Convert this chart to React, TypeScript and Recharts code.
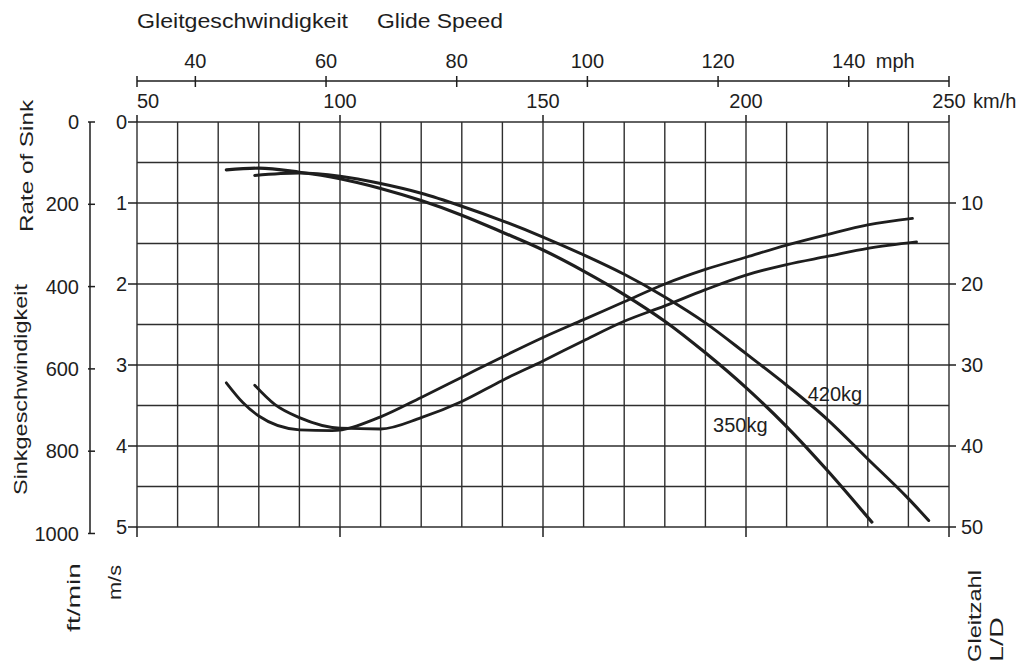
import React from 'react';
import { ComposedChart, Line, XAxis, YAxis, CartesianGrid, ReferenceDot } from 'recharts';

// ---------- data ----------
const sink350Speed = [72, 80, 90, 100, 110, 120, 130, 140, 150, 160, 170, 180, 190, 200, 210, 220, 231];
const sink350 = [0.59, 0.57, 0.62, 0.7, 0.82, 0.97, 1.15, 1.36, 1.58, 1.84, 2.13, 2.46, 2.85, 3.28, 3.76, 4.3, 4.94];

const sink420Speed = [79, 90, 100, 110, 120, 130, 140, 150, 160, 170, 180, 190, 200, 210, 220, 230, 240, 245];
const sink420 = [0.66, 0.63, 0.67, 0.76, 0.88, 1.04, 1.22, 1.42, 1.64, 1.88, 2.16, 2.48, 2.86, 3.25, 3.67, 4.16, 4.65, 4.92];

const ld350Speed = [72, 76, 80, 90, 98, 110, 120, 130, 140, 150, 160, 170, 180, 190, 200, 210, 220, 230, 241];
const ld350 = [32.2, 34.6, 36.3, 38.0, 38.1, 36.4, 34.0, 31.5, 29.0, 26.6, 24.4, 22.2, 20.0, 18.2, 16.7, 15.2, 13.9, 12.7, 11.9];

const ld420Speed = [79, 84, 90, 100, 110, 120, 130, 140, 150, 160, 170, 180, 190, 200, 210, 220, 230, 242];
const ld420 = [32.5, 34.9, 36.5, 37.8, 37.9, 36.5, 34.5, 31.9, 29.5, 27.0, 24.6, 22.7, 20.7, 18.9, 17.6, 16.6, 15.6, 14.8];

const kmhGridTicks = [50, 60, 70, 80, 90, 100, 110, 120, 130, 140, 150, 160, 170, 180, 190, 200, 210, 220, 230, 240, 250];
const kmhLabelTicks = [50, 100, 150, 200, 250];
const mphLabelTicks = [40, 60, 80, 100, 120, 140];
const msTicks = [0, 0.5, 1, 1.5, 2, 2.5, 3, 3.5, 4, 4.5, 5];
const ftminTicks = [0, 200, 400, 600, 800, 1000];
const ldTicks = [10, 20, 30, 40, 50];

const curveLabels = [
  { text: '350kg', speed: 198.6, sink: 3.83 },
  { text: '420kg', speed: 221.9, sink: 3.45 },
];

const KMH_PER_MPH = 1.609344;
const FTMIN_PER_MS = 196.8504;
const mphDomain = [50 / KMH_PER_MPH, 250 / KMH_PER_MPH];
const mphTicks = [mphDomain[0], ...mphLabelTicks, mphDomain[1]];
const ftminDomain = [0, 5 * FTMIN_PER_MS];

const zip = (xs: number[], ys: number[]) => xs.map((x, i) => ({ x, v: ys[i] }));
const sink350Data = zip(sink350Speed, sink350);
const sink420Data = zip(sink420Speed, sink420);
const ld350Data = zip(ld350Speed, ld350);
const ld420Data = zip(ld420Speed, ld420);

// ---------- layout / style ----------
const W = 1024;
const H = 672;
const MARGIN = { top: 41, left: 50, right: 15, bottom: 125 };
const KMH_H = 41;
const MPH_H = 40;
const BOTTOM_H = 20;
const FT_W = 40;
const MS_W = 47;
const LD_W = 60;
const PLOT_TOP = MARGIN.top + KMH_H + MPH_H;
const PLOT_H = H - PLOT_TOP - MARGIN.bottom - BOTTOM_H;
const FT_AXIS_X = MARGIN.left + FT_W;
const FT_AXIS_END = PLOT_TOP + (PLOT_H * ftminTicks[ftminTicks.length - 1]) / ftminDomain[1];

const INK = '#1e1e1e';
const GRID = '#2e2e2e';
const FONT = '"Liberation Sans", Arial, sans-serif';
const NUM = 20;

const txt = { fill: INK, fontFamily: FONT } as const;

const BottomTick = ({ x, y, payload }: any) =>
  payload.value % 50 === 0 ? (
    <line x1={x} x2={x} y1={y} y2={y + 10} stroke={INK} strokeWidth={1.5} />
  ) : (
    <g />
  );

const KmhTick = ({ x, y, payload }: any) => {
  const v = payload.value;
  return (
    <g>
      <line x1={x} x2={x} y1={y - 7} y2={y} stroke={INK} strokeWidth={1.5} />
      <text x={x} y={y - 14} textAnchor={v === 50 ? 'start' : 'middle'} fontSize={NUM} {...txt}>
        {v}
      </text>
      {v === 250 && (
        <text x={x + 24} y={y - 14} textAnchor="start" fontSize={NUM} {...txt}>
          km/h
        </text>
      )}
    </g>
  );
};

const MphTick = ({ x, y, payload }: any) => {
  const v = payload.value;
  const isLabel = mphLabelTicks.includes(v);
  return (
    <g>
      <line x1={x} x2={x} y1={y - 5} y2={y + 6} stroke={INK} strokeWidth={1.5} />
      {isLabel && (
        <text x={x} y={y - 13} textAnchor="middle" fontSize={NUM} {...txt}>
          {v}
        </text>
      )}
      {v === 140 && (
        <text x={x + 27} y={y - 13} textAnchor="start" fontSize={NUM} {...txt}>
          mph
        </text>
      )}
    </g>
  );
};

const MsTick = ({ x, y, payload }: any) => {
  const v = payload.value;
  if (!Number.isInteger(v)) return <g />;
  return (
    <g>
      <line x1={x - 9} x2={x} y1={y} y2={y} stroke={INK} strokeWidth={1.5} />
      <text x={x - 10} y={y} dy="0.36em" textAnchor="end" fontSize={NUM} {...txt}>
        {v}
      </text>
    </g>
  );
};

const FtminTick = ({ x, y, payload }: any) => (
  <g>
    <line x1={x - 2} x2={x + 5} y1={y} y2={y} stroke={INK} strokeWidth={1.5} />
    <text x={x - 11} y={y} dy="0.36em" textAnchor="end" fontSize={NUM} {...txt}>
      {payload.value}
    </text>
  </g>
);

const LdTick = ({ x, y, payload }: any) => (
  <g>
    <line x1={x} x2={x + 7} y1={y} y2={y} stroke={INK} strokeWidth={1.5} />
    <text x={x + 12} y={y} dy="0.36em" textAnchor="start" fontSize={NUM} {...txt}>
      {payload.value}
    </text>
  </g>
);

const VText = ({ x, y, len, children, size = 19 }: any) => (
  <text
    x={x}
    y={y}
    transform={`rotate(-90, ${x}, ${y})`}
    textLength={len}
    lengthAdjust="spacingAndGlyphs"
    fontSize={size}
    {...txt}
  >
    {children}
  </text>
);

export default function App() {
  return (
    <div style={{ position: 'absolute', left: 0, top: 0, width: W, height: H, background: '#fff' }}>
      <ComposedChart width={W} height={H} margin={MARGIN}>
        <XAxis
          xAxisId="bottom"
          dataKey="x"
          type="number"
          orientation="bottom"
          domain={[50, 250]}
          allowDataOverflow
          ticks={kmhGridTicks}
          interval={0}
          height={BOTTOM_H}
          tickSize={0}
          tickMargin={0}
          tickLine={false}
          axisLine={false}
          tick={<BottomTick />}
        />
        <XAxis
          xAxisId="a_kmh"
          dataKey="x"
          type="number"
          orientation="top"
          domain={[50, 250]}
          allowDataOverflow
          ticks={kmhLabelTicks}
          interval={0}
          height={KMH_H}
          tickSize={0}
          tickMargin={0}
          tickLine={false}
          axisLine={false}
          tick={<KmhTick />}
        />
        <XAxis
          xAxisId="b_mph"
          dataKey="x"
          type="number"
          orientation="top"
          domain={mphDomain}
          allowDataOverflow
          ticks={mphTicks}
          interval={0}
          height={MPH_H}
          tickSize={0}
          tickMargin={0}
          tickLine={false}
          stroke={INK}
          axisLine={{ stroke: INK, strokeWidth: 1.5 }}
          tick={<MphTick />}
        />
        <YAxis
          yAxisId="b_ftmin"
          type="number"
          orientation="left"
          domain={ftminDomain}
          allowDataOverflow
          reversed
          ticks={ftminTicks}
          interval={0}
          width={FT_W}
          tickSize={0}
          tickMargin={0}
          tickLine={false}
          axisLine={false}
          tick={<FtminTick />}
        />
        <YAxis
          yAxisId="a_ms"
          type="number"
          orientation="left"
          domain={[0, 5]}
          allowDataOverflow
          reversed
          ticks={msTicks}
          interval={0}
          width={MS_W}
          tickSize={0}
          tickMargin={0}
          tickLine={false}
          axisLine={false}
          tick={<MsTick />}
        />
        <YAxis
          yAxisId="ld"
          type="number"
          orientation="right"
          domain={[0, 50]}
          allowDataOverflow
          reversed
          ticks={ldTicks}
          interval={0}
          width={LD_W}
          tickSize={0}
          tickMargin={0}
          tickLine={false}
          axisLine={false}
          tick={<LdTick />}
        />
        <CartesianGrid xAxisId="bottom" yAxisId="a_ms" stroke={GRID} strokeWidth={1.4} />
        <Line data={sink350Data} dataKey="v" xAxisId="bottom" yAxisId="a_ms" type="monotone" stroke={INK} strokeWidth={3.2} strokeLinecap="round" dot={false} activeDot={false} isAnimationActive={false} />
        <Line data={sink420Data} dataKey="v" xAxisId="bottom" yAxisId="a_ms" type="monotone" stroke={INK} strokeWidth={3} strokeLinecap="round" dot={false} activeDot={false} isAnimationActive={false} />
        <Line data={ld350Data} dataKey="v" xAxisId="bottom" yAxisId="ld" type="monotone" stroke={INK} strokeWidth={2.8} strokeLinecap="round" dot={false} activeDot={false} isAnimationActive={false} />
        <Line data={ld420Data} dataKey="v" xAxisId="bottom" yAxisId="ld" type="monotone" stroke={INK} strokeWidth={2.8} strokeLinecap="round" dot={false} activeDot={false} isAnimationActive={false} />
        {curveLabels.map((c) => (
          <ReferenceDot
            key={c.text}
            xAxisId="bottom"
            yAxisId="a_ms"
            x={c.speed}
            y={c.sink}
            r={0}
            shape={(p: any) => (
              <text x={p.cx} y={p.cy} textAnchor="middle" fontSize={20} {...txt}>
                {c.text}
              </text>
            )}
          />
        ))}
      </ComposedChart>
      <svg width={W} height={H} style={{ position: 'absolute', left: 0, top: 0, pointerEvents: 'none' }}>
        <line x1={FT_AXIS_X} x2={FT_AXIS_X} y1={PLOT_TOP} y2={FT_AXIS_END} stroke={INK} strokeWidth={1.5} />
        <text x={137} y={28} textLength={211} lengthAdjust="spacingAndGlyphs" fontSize={20} {...txt}>
          Gleitgeschwindigkeit
        </text>
        <text x={377} y={28} textLength={126} lengthAdjust="spacingAndGlyphs" fontSize={20} {...txt}>
          Glide Speed
        </text>
        <VText x={33} y={232} len={132}>Rate of Sink</VText>
        <VText x={27} y={495} len={211}>Sinkgeschwindigkeit</VText>
        <VText x={80} y={632} len={69}>ft/min</VText>
        <VText x={121} y={600} len={35}>m/s</VText>
        <VText x={981} y={662} len={92}>Gleitzahl</VText>
        <VText x={1003} y={662} len={45}>L/D</VText>
      </svg>
    </div>
  );
}
